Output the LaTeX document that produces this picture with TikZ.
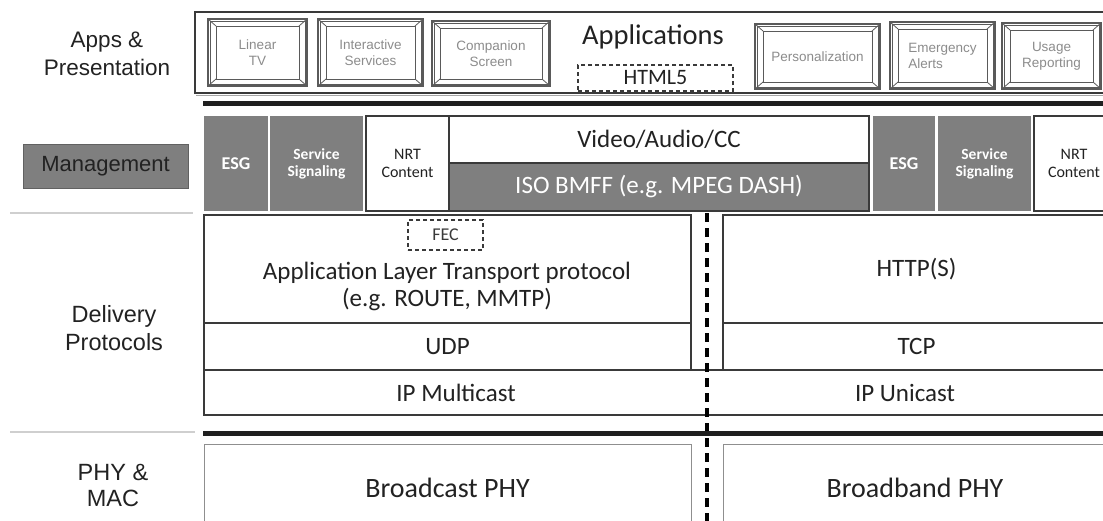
\documentclass[tikz,border=0pt]{standalone}
\usepackage{fontspec}
\setmainfont{Carlito}
\newfontfamily\arialf{Liberation Sans}
\usetikzlibrary{calc}
\definecolor{mg}{HTML}{7F7F7F}
\definecolor{dk}{HTML}{3A3A3A}
\definecolor{tx}{HTML}{222222}
\definecolor{sepc}{HTML}{CFCFCF}
\definecolor{bt}{HTML}{5A5A5A}
\definecolor{btx}{HTML}{8C8C8C}
\definecolor{phyb}{HTML}{8F8F8F}
\newcommand\appbtn[7][center]{%
  \node[btn, minimum width=#5pt, minimum height=#6pt, align=#1] (#2) at (#3,#4) {#7};
  \draw[btnin] ($(#2.north west)+(8,7)$) rectangle ($(#2.south east)+(-8,-7)$);
  \draw[btnin] (#2.north west) -- ++(8,7) (#2.north east) -- ++(-8,7)
               (#2.south west) -- ++(8,-7) (#2.south east) -- ++(-8,-7);
  \draw[btnin, line width=0.5pt] ($(#2.north west)+(2,2)$) rectangle ($(#2.south east)+(-2,-2)$);
}
\begin{document}
\begin{tikzpicture}[x=1pt,y=-1pt,
  every node/.style={inner sep=0pt, outer sep=0pt},
  lbl/.style={font=\arialf\fontsize{22.5}{28}\selectfont, text=tx, align=center},
  txt/.style={text=tx, font=\fontsize{25}{27}\selectfont, align=center},
  blk/.style={draw=dk, line width=1.4pt, fill=white, text=tx, font=\fontsize{25}{27}\selectfont, align=center},
  gblk/.style={fill=mg, text=white, font=\bfseries\fontsize{15.5}{17}\selectfont, align=center},
  wblk/.style={draw=dk, line width=1.3pt, fill=white, text=tx, font=\fontsize{16}{18}\selectfont, align=center},
  phy/.style={draw=phyb, line width=1pt, fill=white},
  btn/.style={draw=bt, line width=1.1pt, fill=white, text=btx, font=\arialf\fontsize{13.5}{16}\selectfont},
  btnin/.style={draw=bt, line width=0.8pt},
  thick sep/.style={line width=5.5pt, draw=black!88},
  light sep/.style={line width=2pt, draw=sepc},
  dashbox/.style={draw=dk, line width=1.3pt, dash pattern=on 4pt off 3pt},
  divider/.style={draw=black, line width=3.4pt, dash pattern=on 9pt off 6pt}
]
\useasboundingbox (0,0) rectangle (1103,520);
\clip (0,0) rectangle (1103,520);
\fill[white] (0,0) rectangle (1103,520);

% ---------- left labels ----------
\node[lbl] (lapps) at (107,54) {Apps \&\\Presentation};
\node[lbl, fill=mg, draw=dk!80, line width=0.8pt, minimum width=165pt, minimum height=44pt, font=\arialf\fontsize{22}{26}\selectfont] (lmgmt) at (105.5,166) {Management};
\node[lbl, font=\arialf\fontsize{23.5}{28}\selectfont] (ldel) at (114,328) {Delivery\\Protocols};
\node[lbl, font=\arialf\fontsize{23.5}{26}\selectfont] (lphy) at (113,485) {PHY \&\\MAC};
\coordinate (s1a) at (10,213); \coordinate (s1b) at (193,213);
\coordinate (s2a) at (10,432); \coordinate (s2b) at (195,432);
\draw[light sep] (s1a) -- (s1b);
\draw[light sep] (s2a) -- (s2b);

% ---------- applications ----------
\node[draw=dk, line width=1.3pt, fill=white, minimum width=915pt, minimum height=81pt] (apps) at (652.5,52.5) {};
\draw[gray!70, line width=1.6pt] ($(apps.south west)+(1,2.6)$) -- ($(apps.south east)+(0,2.6)$);
\appbtn{linear}{257.5}{52.5}{99}{67}{Linear\\TV}
\appbtn{inter}{370.5}{52.5}{105}{67}{Interactive\\Services}
\appbtn{comp}{491}{53.5}{118}{65}{Companion\\Screen}
\appbtn{pers}{817.5}{56.5}{125}{65}{Personalization}
\appbtn[left]{emer}{942.5}{55.5}{105}{67}{Emergency\\Alerts}
\appbtn{usage}{1051.5}{56}{99}{66}{Usage\\Reporting}
\node[text=tx, font=\fontsize{28.5}{30}\selectfont] (appt) at (653,37) {Applications};
\node[dashbox, minimum width=155pt, minimum height=26pt, text=tx, font=\fontsize{22}{24}\selectfont] (html) at (655.5,78) {HTML5};

\coordinate (t1a) at (203,103.5); \coordinate (t1b) at (1103,103.5);
\draw[thick sep] (t1a) -- (t1b);

% ---------- management row ----------
\node[gblk, minimum width=64pt, minimum height=95pt, font=\bfseries\fontsize{18}{20}\selectfont] (esg1) at (236,163.5) {ESG};
\node[gblk, minimum width=93pt, minimum height=95pt] (ss1) at (316.5,163.5) {Service\\Signaling};
\node[wblk, minimum width=83pt, minimum height=95pt] (nrt1) at (407.5,163.5) {NRT\\Content};
\node[blk, minimum width=420pt, minimum height=47pt] (vac) at (659,139.5) {Video/Audio/CC};
\node[blk, fill=mg, text=white, minimum width=420pt, minimum height=48pt] (iso) at (659,187) {ISO BMFF (e.g. MPEG DASH)};
\node[gblk, minimum width=62pt, minimum height=95pt, font=\bfseries\fontsize{18}{20}\selectfont] (esg2) at (904,163.5) {ESG};
\node[gblk, minimum width=93pt, minimum height=95pt] (ss2) at (984.5,163.5) {Service\\Signaling};
\node[wblk, minimum width=80pt, minimum height=95pt] (nrt2) at (1074,163.5) {NRT\\Content};

% ---------- delivery ----------
\node[blk, minimum width=487pt, minimum height=108pt] (alt) at (447.5,269) {};
\node[dashbox, minimum width=75pt, minimum height=30pt, text=dk, font=\fontsize{18}{20}\selectfont] (fec) at (445.5,235) {FEC};
\node[txt, font=\fontsize{25}{27}\selectfont] (altt) at (447,286.5) {Application Layer Transport protocol\\(e.g. ROUTE, MMTP)};
\node[blk, minimum width=487pt, minimum height=47pt] (udp) at (447.5,346.5) {UDP};
\node[blk, minimum width=387pt, minimum height=108pt] (http) at (916.5,269) {HTTP(S)};
\node[blk, minimum width=387pt, minimum height=47pt] (tcp) at (916.5,346.5) {TCP};
\node[blk, minimum width=906pt, minimum height=45pt] (ip) at (657,392.5) {};
\node[txt] (ipm) at (456,393) {IP Multicast};
\node[txt] (ipu) at (905,393) {IP Unicast};

% ---------- PHY ----------
\node[phy, minimum width=487pt, minimum height=86pt] (bcast) at (447.5,487) {};
\node[txt, font=\fontsize{28}{30}\selectfont] (bcastt) at (447.5,488) {Broadcast PHY};
\node[phy, minimum width=387pt, minimum height=86pt] (bband) at (916.5,487) {};
\node[txt, font=\fontsize{28}{30}\selectfont] (bbandt) at (915,488) {Broadband PHY};

% ---------- divider ----------
\coordinate (dtop) at (707,213); \coordinate (dbot) at (707,522);
\draw[divider] (dtop) -- (dbot);

\coordinate (t2a) at (203,433); \coordinate (t2b) at (1103,433);
\draw[thick sep, line width=5pt] (t2a) -- (t2b);
\end{tikzpicture}
\end{document}
